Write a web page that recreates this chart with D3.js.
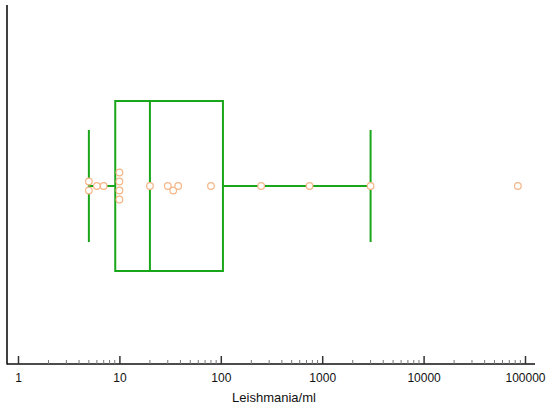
<!DOCTYPE html>
<html>
<head>
<meta charset="utf-8">
<script src="https://cdn.jsdelivr.net/npm/d3@7"></script>
<style>
  html, body { margin: 0; padding: 0; background: #fff; }
  svg { display: block; }
  text { font-family: Arial, "Liberation Sans", sans-serif; }
</style>
</head>
<body>
<svg id="chart" width="550" height="408"></svg>
<script>
// ---- data ----
const values = [5, 5, 6, 7, 10, 10, 10, 10, 20, 30, 34, 38, 80, 250, 750, 3000, 85000];
const boxStats = [5, 9.1, 20, 105, 3000]; // lower whisker, Q1, median, Q3, upper whisker
const tickValues = [1, 10, 100, 1000, 10000, 100000];
const tickLabels = ["1", "10", "100", "1000", "10000", "100000"];
const axisTitle = "Leishmania/ml";

// ---- layout ----
const W = 550, H = 408;
const axisY = 364;
const centerY = 186;
const boxHalf = 85;
const capHalf = 56;
const green = "#1aa61a";
const dotColor = "#f6b688";

const svg = d3.select("#chart");
const x = d3.scaleLog().domain([1, 100000]).range([18, 525]);

// axes lines
svg.append("line").attr("x1", 7).attr("x2", 7).attr("y1", 5).attr("y2", axisY + 0.5)
  .attr("stroke", "#111").attr("stroke-width", 1.6);
svg.append("line").attr("x1", 7).attr("x2", 535).attr("y1", axisY).attr("y2", axisY)
  .attr("stroke", "#111").attr("stroke-width", 1.6);

// minor ticks
const minor = [];
for (let d = 1; d < 100000; d *= 10) for (let k = 2; k <= 9; k++) minor.push(d * k);
svg.append("g").selectAll("line").data(minor).join("line")
  .attr("x1", d => x(d)).attr("x2", d => x(d))
  .attr("y1", axisY - 4).attr("y2", axisY)
  .attr("stroke", "#777").attr("stroke-width", 1);

// major ticks + labels via d3 axis
const axis = d3.axisBottom(x).tickValues(tickValues)
  .tickFormat((d, i) => tickLabels[i]).tickSize(0).tickPadding(0);
const gAx = svg.append("g").attr("transform", `translate(0,${axisY})`).call(axis);
gAx.select(".domain").remove();
gAx.selectAll("text").attr("y", 18).attr("dy", 0).attr("fill", "#111")
  .style("font-size", "12px");
gAx.selectAll(".tick").append("line").attr("y1", -8).attr("y2", 0)
  .attr("stroke", "#333").attr("stroke-width", 1.5);

svg.append("text").attr("x", 274).attr("y", 402).attr("text-anchor", "middle")
  .attr("fill", "#111").style("font-size", "13px").text(axisTitle);

// box plot
const [lo, q1, med, q3, hi] = boxStats;
const g = svg.append("g").attr("stroke", green).attr("stroke-width", 2).attr("fill", "none");
g.append("rect").attr("x", x(q1)).attr("y", centerY - boxHalf)
  .attr("width", x(q3) - x(q1)).attr("height", boxHalf * 2);
g.append("line").attr("x1", x(med)).attr("x2", x(med))
  .attr("y1", centerY - boxHalf).attr("y2", centerY + boxHalf);
g.append("line").attr("x1", x(lo)).attr("x2", x(q1)).attr("y1", centerY).attr("y2", centerY);
g.append("line").attr("x1", x(q3)).attr("x2", x(hi)).attr("y1", centerY).attr("y2", centerY);
g.append("line").attr("x1", x(lo)).attr("x2", x(lo)).attr("y1", centerY - capHalf).attr("y2", centerY + capHalf);
g.append("line").attr("x1", x(hi)).attr("x2", x(hi)).attr("y1", centerY - capHalf).attr("y2", centerY + capHalf);

// dot placement: duplicates stacked symmetrically, others beeswarm
const step = 9, minDist = 6;
const counts = d3.rollup(values, v => v.length, d => d);
const seen = new Map();
const placed = [];
values.forEach(v => {
  const px = x(v);
  const n = counts.get(v);
  let off;
  if (n > 1) {
    const i = seen.get(v) || 0; seen.set(v, i + 1);
    off = (i - (n - 1) / 2) * step;
  } else {
    const cands = [0];
    for (let k = 1; k < 10; k++) { cands.push(k * step / 2, -k * step / 2); }
    off = cands.find(o => placed.every(p => Math.hypot(p.x - px, p.y - (centerY + o)) >= minDist));
  }
  placed.push({ x: px, y: centerY + off });
});

svg.append("g").selectAll("circle").data(placed).join("circle")
  .attr("cx", d => d.x).attr("cy", d => d.y).attr("r", 3.3)
  .attr("fill", "#fff").attr("stroke", dotColor).attr("stroke-width", 1.2);
</script>
</body>
</html>
